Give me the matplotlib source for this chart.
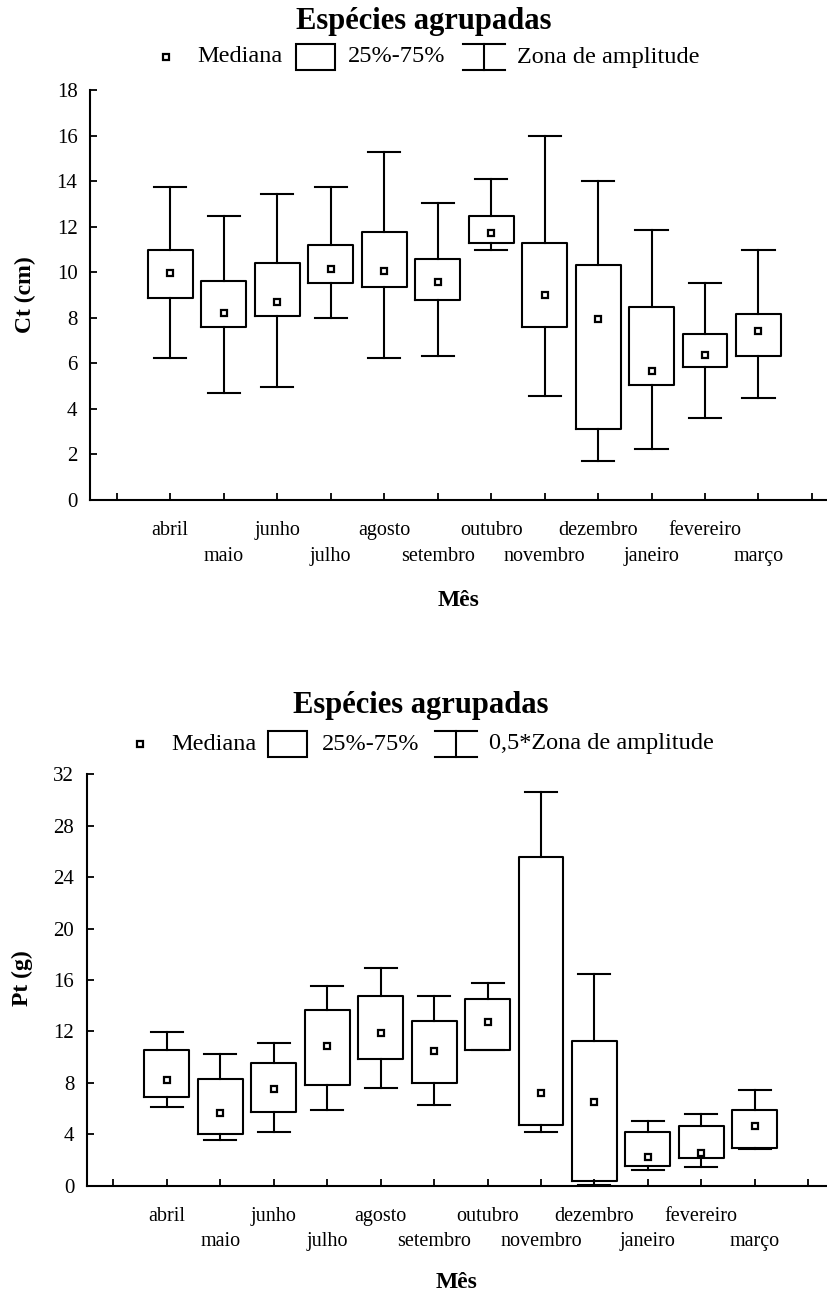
import matplotlib
matplotlib.use("Agg")
import matplotlib.pyplot as plt
from matplotlib.patches import Rectangle
from matplotlib.lines import Line2D

# meses (posições 1..12 no eixo)
months = ["abril", "maio", "junho", "julho", "agosto", "setembro",
          "outubro", "novembro", "dezembro", "janeiro", "fevereiro", "março"]

# Ct (cm): mínimo, 25%, mediana, 75%, máximo
ct_low = [6.22, 4.68, 4.95, 7.97, 6.22, 6.32, 10.97, 4.57, 1.73, 2.22, 3.59, 4.46]
ct_q1 = [8.85, 7.59, 8.08, 9.54, 9.34, 8.77, 11.28, 7.59, 3.12, 5.05, 5.84, 6.32]
ct_med = [9.98, 8.22, 8.71, 10.14, 10.07, 9.58, 11.74, 9.00, 7.93, 5.68, 6.35, 7.42]
ct_q3 = [10.97, 9.63, 10.42, 11.19, 11.76, 10.59, 12.47, 11.28, 10.32, 8.46, 7.29, 8.17]
ct_high = [13.73, 12.47, 13.42, 13.73, 15.29, 13.02, 14.11, 15.96, 14.02, 11.87, 9.53, 10.99]

# Pt (g): 0,5*zona de amplitude
pt_low = [6.10, 3.53, 4.20, 5.92, 7.63, 6.26, 10.56, 4.18, 0.05, 1.25, 1.43, 2.83]
pt_q1 = [6.93, 4.00, 5.76, 7.84, 9.88, 7.99, 10.56, 4.70, 0.39, 1.56, 2.13, 2.96]
pt_med = [8.23, 5.68, 7.53, 10.85, 11.88, 10.48, 12.74, 7.21, 6.51, 2.21, 2.57, 4.62]
pt_q3 = [10.56, 8.33, 9.55, 13.70, 14.74, 12.82, 14.55, 25.60, 11.26, 4.18, 4.67, 5.92]
pt_high = [11.96, 10.22, 11.10, 15.56, 16.97, 14.74, 15.75, 30.61, 16.45, 5.03, 5.55, 7.45]

plt.rcParams["font.family"] = ["Liberation Serif", "DejaVu Serif"]

W, H = 828, 1296
fig = plt.figure(figsize=(W / 100, H / 100), dpi=100)


def fx(x):
    return x / W


def fy(y):
    return 1 - y / H


LW = 1.5


def legend_row(y, x_marker, x_med, x_box, x_pct, x_err, x_txt, txt):
    fig.add_artist(Line2D([fx(x_marker)], [fy(y)], marker="s", ms=4, mfc="white",
                          mec="black", mew=1.6, transform=fig.transFigure))
    fig.text(fx(x_med), fy(y), "Mediana", fontsize=17.5, ha="left", va="center")
    fig.add_artist(Rectangle((fx(x_box), fy(y + 13)), 39 / W, 26 / H, fill=False,
                             lw=LW, ec="black", transform=fig.transFigure))
    fig.text(fx(x_pct), fy(y), "25%-75%", fontsize=17.5, ha="left", va="center")
    xc = x_err + 21
    for seg in ([x_err, x_err + 42], [y - 13, y - 13]), ([x_err, x_err + 42], [y + 13, y + 13]), \
               ([xc, xc], [y - 13, y + 13]):
        fig.add_artist(Line2D([fx(v) for v in seg[0]], [fy(v) for v in seg[1]],
                              color="black", lw=LW, transform=fig.transFigure))
    fig.text(fx(x_txt), fy(y), txt, fontsize=17.5, ha="left", va="center")


def panel(rect, low, q1, med, q3, high, ymax, ystep, xmax):
    ax = fig.add_axes(rect)
    pos = list(range(1, len(months) + 1))
    stats = [dict(whislo=a, q1=b, med=c, q3=d, whishi=e, fliers=[])
             for a, b, c, d, e in zip(low, q1, med, q3, high)]
    kw = dict(color="black", lw=LW)
    ax.bxp(stats, positions=pos, widths=0.84, capwidths=0.6, showfliers=False,
           boxprops=kw, whiskerprops=kw, capprops=kw,
           medianprops=dict(lw=0), manage_ticks=False)
    ax.plot(pos, med, "s", ms=4, mfc="white", mec="black", mew=1.6, zorder=5)

    ax.set_xlim(-0.5, xmax)
    ax.set_ylim(0, ymax)
    ax.set_yticks(range(0, ymax + 1, ystep))

    # rótulos em duas linhas: ímpares em cima (major), pares em baixo (minor)
    top_pos = pos[0::2]
    low_pos = [0] + pos[1::2] + [len(months) + 1]
    ax.set_xticks(top_pos)
    ax.set_xticklabels(months[0::2])
    ax.set_xticks(low_pos, minor=True)
    ax.set_xticklabels([""] + months[1::2] + [""], minor=True)

    ax.tick_params(axis="both", which="both", direction="in", length=5, width=1.3)
    ax.tick_params(axis="x", which="major", labelsize=14.5, pad=15)
    ax.tick_params(axis="x", which="minor", labelsize=14.5, pad=33.5)
    ax.tick_params(axis="y", labelsize=15, pad=9)
    for s in ("top", "right"):
        ax.spines[s].set_visible(False)
    for s in ("left", "bottom"):
        ax.spines[s].set_linewidth(LW)
    return ax


# painel superior: Ct
panel([fx(90), fy(500), 1 - fx(90), (500 - 90) / H],
      ct_low, ct_q1, ct_med, ct_q3, ct_high, 18, 2, 13.3)
fig.text(fx(424), fy(22), "Espécies agrupadas", fontsize=22, fontweight="bold",
         ha="center", va="center")
legend_row(57, 166, 197, 296, 348, 463, 517, "Zona de amplitude")
fig.text(fx(25), fy(295), "Ct (cm)", fontsize=17, fontweight="bold", rotation=90,
         ha="center", va="center")
fig.text(fx(459), fy(600), "Mês", fontsize=17, fontweight="bold", ha="center", va="center")

# painel inferior: Pt
panel([fx(86.7), fy(1185.7), 1 - fx(86.7), (1185.7 - 774.3) / H],
      pt_low, pt_q1, pt_med, pt_q3, pt_high, 32, 4, 13.37)
fig.text(fx(421), fy(705), "Espécies agrupadas", fontsize=22, fontweight="bold",
         ha="center", va="center")
legend_row(744, 140, 171, 268, 322, 435, 489, "0,5*Zona de amplitude")
fig.text(fx(22), fy(978), "Pt (g)", fontsize=17, fontweight="bold", rotation=90,
         ha="center", va="center")
fig.text(fx(457), fy(1282), "Mês", fontsize=17, fontweight="bold", ha="center", va="center")

fig.savefig("out.png", dpi=100)
